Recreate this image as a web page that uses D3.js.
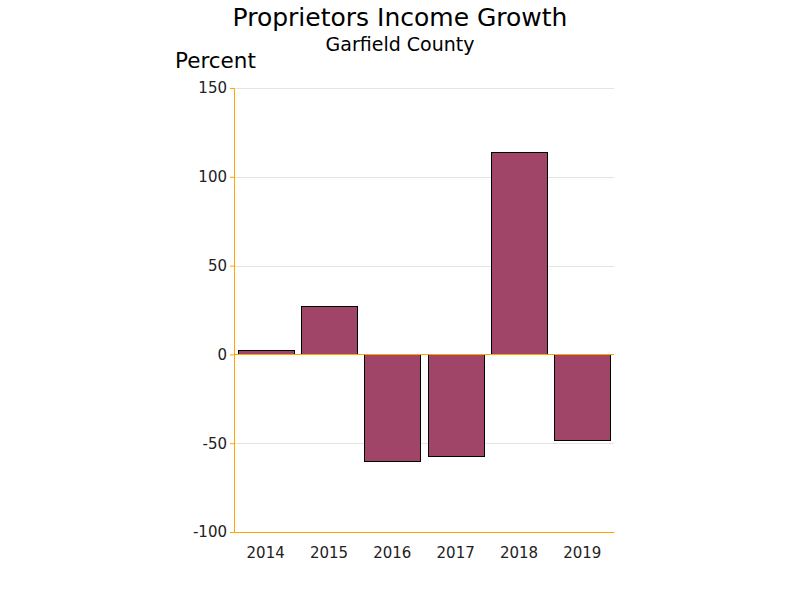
<!DOCTYPE html>
<html><head><meta charset="utf-8">
<script src="https://cdn.jsdelivr.net/npm/d3@7"></script>
<style>body{margin:0;background:#fff;} svg{display:block;}</style>
</head><body>
<svg id="chart" width="800" height="600"></svg>
<script>
const years = ["2014","2015","2016","2017","2018","2019"];
const growth = [2.2, 27.0, -60.1, -57.3, 114.0, -48.3];
const yTicks = [-100, -50, 0, 50, 100, 150];
const titleText = "Proprietors Income Growth";
const subtitleText = "Garfield County";
const yLabel = "Percent";

(function () {
const svg = d3.select("#chart");
const pLeft = 234, pRight = 614, pTop = 88, pBottom = 532;
const axisColor = "#ffa500";
const font = "'DejaVu Sans', sans-serif";

const x = d3.scaleBand().domain(years).range([pLeft, pRight]).paddingInner(0.115).paddingOuter(0.0575);
const y = d3.scaleLinear().domain([-100, 150]).range([pBottom, pTop]);

// title
svg.append("text").attr("x", 400).attr("y", 26).attr("text-anchor", "middle")
  .attr("font-family", font).attr("font-size", 25).attr("fill", "#000").text(titleText);
svg.append("text").attr("x", 400).attr("y", 51).attr("text-anchor", "middle")
  .attr("font-family", font).attr("font-size", 19).attr("fill", "#000").text(subtitleText);
svg.append("text").attr("x", 175).attr("y", 68).attr("text-anchor", "start")
  .attr("font-family", font).attr("font-size", 21.5).attr("fill", "#000").text(yLabel);

// gridlines
svg.append("g").selectAll("line").data(yTicks.filter(d => d !== 0 && d !== -100)).join("line")
  .attr("x1", pLeft).attr("x2", pRight)
  .attr("y1", d => Math.round(y(d)) + 0.5).attr("y2", d => Math.round(y(d)) + 0.5)
  .attr("stroke", "#e4e4e4").attr("stroke-width", 1);

// bars
svg.append("g").selectAll("rect").data(years).join("rect")
  .attr("x", d => Math.round(x(d)) + 0.5)
  .attr("width", Math.round(x.bandwidth()))
  .attr("y", (d, i) => Math.round(y(Math.max(0, growth[i]))) + 0.5)
  .attr("height", (d, i) => Math.round(Math.abs(y(growth[i]) - y(0))))
  .attr("fill", "#a04468").attr("stroke", "#000").attr("stroke-width", 1);

// zero line
svg.append("line").attr("x1", pLeft).attr("x2", pRight)
  .attr("y1", Math.round(y(0)) + 0.5).attr("y2", Math.round(y(0)) + 0.5)
  .attr("stroke", axisColor).attr("stroke-width", 1);

// y axis
const yAxis = d3.axisLeft(y).tickValues(yTicks).tickSize(4).tickPadding(3).tickFormat(d => String(d));
const gy = svg.append("g").attr("transform", `translate(${pLeft},0)`).call(yAxis);
gy.select(".domain").attr("stroke", axisColor);
gy.selectAll(".tick line").attr("stroke", axisColor);
gy.selectAll(".tick text").attr("font-family", font).attr("font-size", 15).attr("fill", "#222");

// x axis
const xAxis = d3.axisBottom(x).tickSize(0).tickPadding(15);
const gx = svg.append("g").attr("transform", `translate(0,${pBottom})`).call(xAxis);
gx.select(".domain").attr("stroke", axisColor);
gx.selectAll(".tick text").attr("font-family", font).attr("font-size", 15).attr("fill", "#222");
})();
</script>
</body></html>
